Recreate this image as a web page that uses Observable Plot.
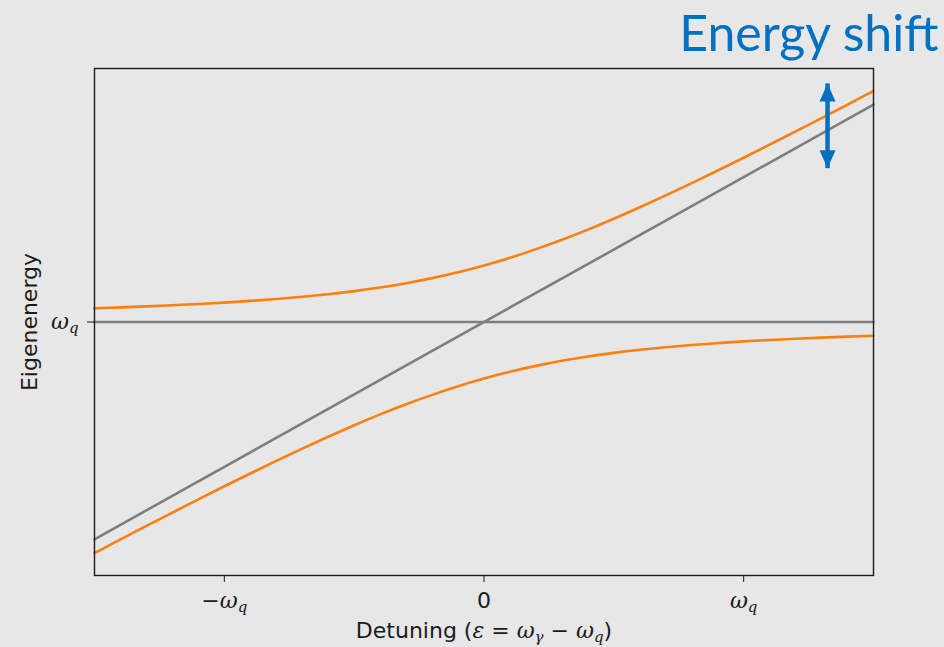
<!DOCTYPE html>
<html>
<head>
<meta charset="utf-8">
<script src="https://cdn.jsdelivr.net/npm/d3@7"></script>
<script src="https://cdn.jsdelivr.net/npm/@observablehq/plot@0.6"></script>
<style>
  html, body { margin: 0; padding: 0; background: #e7e7e7; }
  #chart { width: 944px; height: 647px; overflow: hidden; }
</style>
</head>
<body>
<div id="chart"></div>
<script>
// Detuning values (in units of ω_q)
const detuning = [-1.5,-1.4,-1.3,-1.2,-1.1,-1.0,-0.9,-0.8,-0.7,-0.6,-0.5,-0.4,-0.3,-0.2,-0.1,0,
  0.1,0.2,0.3,0.4,0.5,0.6,0.7,0.8,0.9,1.0,1.1,1.2,1.3,1.4,1.5];
// Dressed (orange) upper branch, eigenenergy relative to ω_q
const upperBranch = [0.095,0.101,0.108,0.116,0.124,0.134,0.146,0.159,0.174,0.192,0.213,0.238,0.268,0.303,0.343,0.390,
  0.443,0.503,0.568,0.638,0.713,0.792,0.874,0.959,1.046,1.134,1.224,1.316,1.408,1.501,1.595];
// Dressed (orange) lower branch
const lowerBranch = [-1.595,-1.501,-1.408,-1.316,-1.224,-1.134,-1.046,-0.959,-0.874,-0.792,-0.713,-0.638,-0.568,-0.503,-0.443,-0.390,
  -0.343,-0.303,-0.268,-0.238,-0.213,-0.192,-0.174,-0.159,-0.146,-0.134,-0.124,-0.116,-0.108,-0.101,-0.095];
// Bare (gray) levels: resonator line and qubit line
const bareX = [-1.5, 1.5];
const bareResonator = [-1.5, 1.5];
const bareQubit = [0, 0];
// Ticks
const xTicks = [-1, 0, 1];
const xTickLabels = ["−ωq", "0", "ωq"];
const yTicks = [0];
const yTickLabels = ["ωq"];
// Energy-shift arrow annotation
const arrowX = [1.323];
const arrowTop = [1.647];
const arrowBottom = [1.062];
const titleText = "Energy shift";

const upper = detuning.map((x, i) => ({x, y: upperBranch[i]}));
const lower = detuning.map((x, i) => ({x, y: lowerBranch[i]}));
const resonator = bareX.map((x, i) => ({x, y: bareResonator[i]}));
const qubit = bareX.map((x, i) => ({x, y: bareQubit[i]}));
const arrow = arrowX.map((x, i) => ({x, y1: arrowTop[i], y2: arrowBottom[i]}));

const headUp = {
  draw(context) {
    context.moveTo(0, 0);
    context.lineTo(8, 18);
    context.lineTo(-8, 18);
    context.closePath();
  }
};

const FONT = "DejaVu Sans";
const BLUE = "#0070c0";
const INK = "#1a1a1a";

const plot = Plot.plot({
  width: 944,
  height: 647,
  marginLeft: 94,
  marginRight: 71,
  marginTop: 68,
  marginBottom: 72,
  style: {background: "#e7e7e7", fontFamily: FONT, fontSize: "22px", overflow: "visible"},
  x: {domain: [-1.5, 1.5]},
  y: {domain: [-1.75, 1.75]},
  marks: [
    Plot.line(resonator, {x: "x", y: "y", stroke: "#7f7f7f", strokeWidth: 2.6}),
    Plot.line(qubit, {x: "x", y: "y", stroke: "#7f7f7f", strokeWidth: 2.6}),
    Plot.line(upper, {x: "x", y: "y", stroke: "#ff7f0e", strokeWidth: 2.6, curve: "natural"}),
    Plot.line(lower, {x: "x", y: "y", stroke: "#ff7f0e", strokeWidth: 2.6, curve: "natural"}),
    Plot.link(arrow, {x1: "x", x2: "x", y1: "y1", y2: "y2", stroke: BLUE, strokeWidth: 4.5}),
    Plot.dot(arrow, {x: "x", y: "y1", symbol: headUp, fill: BLUE, stroke: "none"}),
    Plot.dot(arrow, {x: "x", y: "y2", symbol: headUp, fill: BLUE, stroke: "none", rotate: 180}),
    Plot.frame({stroke: INK, strokeWidth: 1.4}),
    Plot.axisX({ticks: xTicks, tickFormat: (d) => xTickLabels[xTicks.indexOf(d)], tickSize: 7, tickPadding: 10,
      fontSize: 22, label: null, stroke: INK, fill: INK}),
    Plot.axisY({ticks: yTicks, tickFormat: (d) => yTickLabels[yTicks.indexOf(d)], tickSize: 7, tickPadding: 9,
      fontSize: 22, label: null, stroke: INK, fill: INK}),
    Plot.text(["Detuning"], {frameAnchor: "bottom", dy: 55, fontSize: 22, fill: INK, text: (d) => d, lineAnchor: "middle"}),
    Plot.text(["Eigenenergy"], {frameAnchor: "left", dx: -65, rotate: -90, fontSize: 22, fill: INK, text: (d) => d,
      lineAnchor: "middle", textAnchor: "middle"}),
    Plot.text([titleText], {frameAnchor: "top-right", dx: 65, dy: -18, fontSize: 50, fill: BLUE, text: (d) => d,
      textAnchor: "end", lineAnchor: "bottom", fontFamily: "Lato"})
  ]
});

// Math formatting of labels (italic symbols with subscripts)
const omega = (s) => `<tspan font-family="DejaVu Serif" font-style="italic">ω</tspan>` +
  `<tspan font-size="15" dy="4" font-family="DejaVu Serif" font-style="italic">${s}</tspan>`;
d3.select(plot).selectAll("text").each(function() {
  const t = this.textContent;
  if (t === "ωq") this.innerHTML = omega("q");
  else if (t === "−ωq") this.innerHTML = "<tspan>−</tspan>" + omega("q");
  else if (t === "Detuning") {
    this.innerHTML = `<tspan>Detuning (</tspan><tspan font-family="DejaVu Serif" font-style="italic">ε</tspan><tspan> = </tspan>` +
      omega("γ") + `<tspan dy="-4"> − </tspan>` + omega("q") + `<tspan dy="-4">)</tspan>`;
  }
});

document.getElementById("chart").appendChild(plot);
</script>
</body>
</html>
